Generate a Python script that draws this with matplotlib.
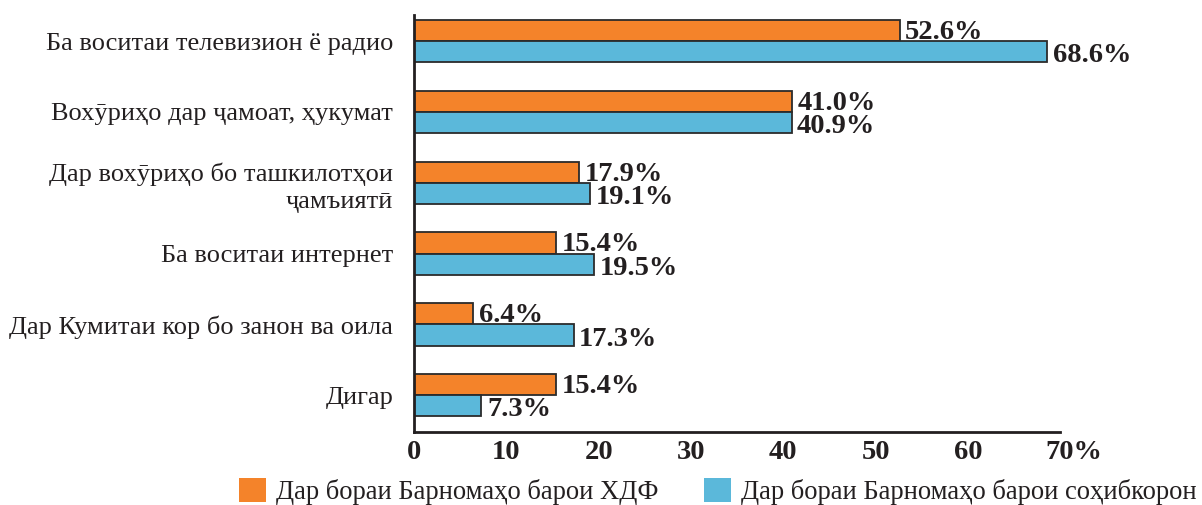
import numpy as np
import matplotlib
matplotlib.use("Agg")
import matplotlib.pyplot as plt
from matplotlib.patches import Patch
from matplotlib.transforms import ScaledTranslation

plt.rcParams['font.family'] = ['Liberation Serif', 'DejaVu Serif']

# survey answers: where people got information
categories = [
    "Ба воситаи телевизион ё радио",
    "Вохӯриҳо дар ҷамоат, ҳукумат",
    "Дар вохӯриҳо бо ташкилотҳои\nҷамъиятӣ",
    "Ба воситаи интернет",
    "Дар Кумитаи кор бо занон ва оила",
    "Дигар",
]
hdf = [52.6, 41.0, 17.9, 15.4, 6.4, 15.4]
owners = [68.6, 40.9, 19.1, 19.5, 17.3, 7.3]
series_names = ["Дар бораи Барномаҳо барои ХДФ",
                "Дар бораи Барномаҳо барои соҳибкорон"]
xticks = [0, 10, 20, 30, 40, 50, 60, 70]

orange = '#F4832A'
blue = '#5BB8DA'
edge = '#2b2b2b'
ink = '#231F20'

fig = plt.figure(figsize=(12.02, 5.05), dpi=100)
ax = fig.add_axes([0.3444, 0.1446, 0.882 - 0.3444, 0.970 - 0.1446])

y = np.arange(len(categories))
h = 0.3
ax.barh(y - h / 2, hdf, height=h, color=orange, edgecolor=edge, linewidth=1.3)
ax.barh(y + h / 2, owners, height=h, color=blue, edgecolor=edge, linewidth=1.3)

# value labels sit on the lower edge of each bar
for yi, v in zip(y, hdf):
    ax.annotate(f"{v:.1f}%", xy=(v, yi), xytext=(4, 1.5), textcoords='offset points',
                va='baseline', ha='left', fontsize=20.5, fontweight='bold', color=ink)
for yi, v in zip(y + h, owners):
    ax.annotate(f"{v:.1f}%", xy=(v, yi), xytext=(4, 0), textcoords='offset points',
                va='baseline', ha='left', fontsize=20.5, fontweight='bold', color=ink)

ax.set_xlim(0, 70)
ax.set_ylim(5.52, -0.367)

ax.set_yticks(y)
ax.set_yticklabels(categories, fontsize=19, color=ink, linespacing=1.3)
ax.tick_params(axis='y', length=0, pad=15)

ax.set_xticks(xticks)
ax.set_xticklabels([str(t) for t in xticks[:-1]] + ["70%"], fontsize=20.5,
                   fontweight='bold', color=ink)
ax.tick_params(axis='x', length=0, pad=6)
ax.set_xticks([10, 20, 40, 50, 60, 70], minor=True)
ax.tick_params(axis='x', which='minor', direction='in', length=7, width=1.5, color=ink)

# keep "70" over its tick, with the percent sign trailing
last = ax.get_xticklabels()[-1]
last.set_transform(last.get_transform() + ScaledTranslation(0.14, 0, fig.dpi_scale_trans))

for s in ['top', 'right']:
    ax.spines[s].set_visible(False)
for s in ['left', 'bottom']:
    ax.spines[s].set_linewidth(2)
    ax.spines[s].set_color(ink)

handles = [Patch(facecolor=orange, edgecolor='none'),
           Patch(facecolor=blue, edgecolor='none')]
fig.legend(handles, series_names, loc='center', bbox_to_anchor=(718 / 1202, 0.026),
           ncol=2, frameon=False, fontsize=19.2, handlelength=1.0, handleheight=1.0,
           handletextpad=0.4, columnspacing=1.7, borderpad=0, labelcolor=ink)

fig.savefig('out.png', dpi=100)
